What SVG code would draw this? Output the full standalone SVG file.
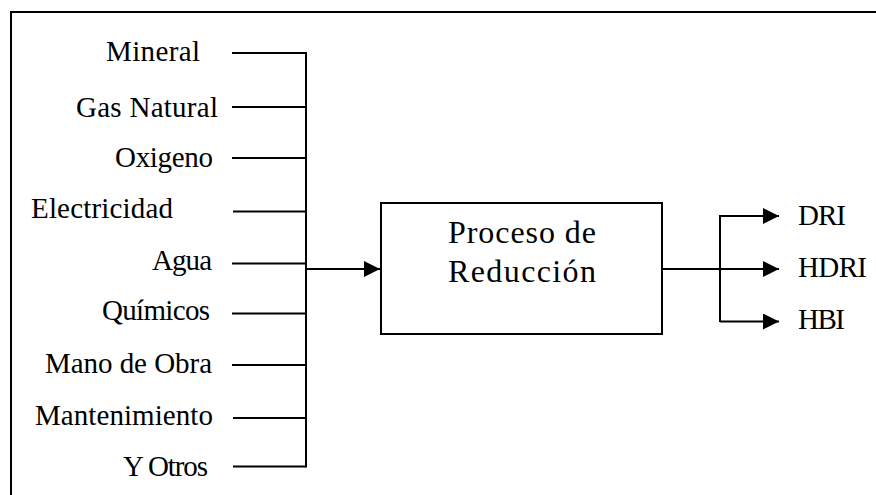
<svg xmlns="http://www.w3.org/2000/svg" width="876" height="495" viewBox="0 0 876 495">
  <style>
    .lbl { font-size: 29px; fill: #000; }
    .big { font-size: 32px; fill: #000; }
    .ln { stroke: #000; stroke-width: 2; fill: none; }
  </style>
  <defs>
    <marker id="arr" markerWidth="16" markerHeight="16" refX="16" refY="8" orient="auto" markerUnits="userSpaceOnUse">
      <path d="M0,0 L16,8 L0,16 Z" fill="#000"/>
    </marker>
  </defs>
  <rect x="0" y="0" width="876" height="495" fill="#fff"/>
  <!-- outer frame (runs off the right and bottom edges) -->
  <path d="M11,500 L11,12 L880,12" class="ln"/>

  <!-- input labels -->
  <g id="inputs" font-family="Liberation Serif, serif">
    <text class="lbl" x="106" y="61" textLength="94">Mineral</text>
    <text class="lbl" x="76" y="117" textLength="142">Gas Natural</text>
    <text class="lbl" x="115" y="167" textLength="98">Oxigeno</text>
    <text class="lbl" x="31" y="218" textLength="142">Electricidad</text>
    <text class="lbl" x="152" y="270" textLength="60">Agua</text>
    <text class="lbl" x="102" y="320" textLength="108">Químicos</text>
    <text class="lbl" x="45" y="373" textLength="167">Mano de Obra</text>
    <text class="lbl" x="35" y="425" textLength="178">Mantenimiento</text>
    <text class="lbl" x="123" y="476" textLength="85">Y Otros</text>
  </g>

  <!-- process node -->
  <g id="proceso" font-family="Liberation Serif, serif">
    <rect x="381" y="203" width="281" height="131" class="ln"/>
    <text class="big" x="448" y="243" textLength="148">Proceso de</text>
    <text class="big" x="448" y="282" textLength="148">Reducción</text>
  </g>

  <!-- output labels -->
  <g id="outputs" font-family="Liberation Serif, serif">
    <text class="lbl" x="798" y="225" textLength="48">DRI</text>
    <text class="lbl" x="798" y="277" textLength="69">HDRI</text>
    <text class="lbl" x="798" y="329" textLength="47">HBI</text>
  </g>

  <!-- connectors -->
  <g id="connectors">
    <path class="ln" d="M232,53 H306 M232,107 H306 M232,158 H306 M233,211.5 H306 M232,263.5 H306 M232,313.5 H306 M232,365 H306 M233,418 H306 M233,466.5 H306"/>
    <path class="ln" d="M306,52 V467.5"/>
    <path class="ln" d="M306,269 H380" stroke-width="2.5" marker-end="url(#arr)"/>
    <path class="ln" d="M662,269 H720"/>
    <path class="ln" d="M720,215 V322"/>
    <path class="ln" d="M720,216 H779" marker-end="url(#arr)"/>
    <path class="ln" d="M720,269 H779" marker-end="url(#arr)"/>
    <path class="ln" d="M720,321.5 H779" marker-end="url(#arr)"/>
  </g>
</svg>
